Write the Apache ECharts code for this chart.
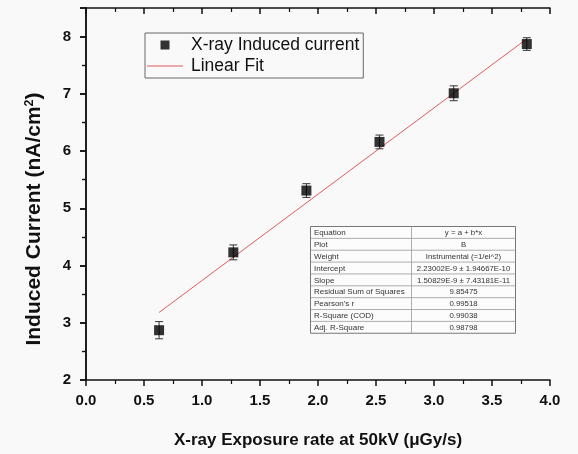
<!DOCTYPE html>
<html>
<head>
<meta charset="utf-8">
<script src="https://cdn.jsdelivr.net/npm/echarts@6/dist/echarts.min.js"></script>
<style>
  html, body { margin: 0; padding: 0; background: #f9f9f9; }
  #chart { width: 578px; height: 454px; }
</style>
</head>
<body>
<div id="chart"></div>
<script>
// Measured induced current vs. X-ray exposure rate
const exposureRate = [0.63, 1.27, 1.90, 2.53, 3.17, 3.80];
const inducedCurrent = [2.87, 4.23, 5.31, 6.16, 7.01, 7.87];
const currentError = [0.15, 0.13, 0.12, 0.12, 0.13, 0.11];

// Linear fit y = a + b*x (in nA/cm^2 units)
const fitIntercept = 2.23002;
const fitSlope = 1.50829;

const xTicks = { min: 0, max: 4, interval: 0.5 };
const yTicks = { min: 2, max: 8.5, interval: 1 };

const legendNames = ['X-ray Induced current', 'Linear Fit'];

// Fit statistics table
const tableLabels = ['Equation', 'Plot', 'Weight', 'Intercept', 'Slope',
  'Residual Sum of Squares', "Pearson's r", 'R-Square (COD)', 'Adj. R-Square'];
const tableValues = ['y = a + b*x', 'B', 'Instrumental (=1/ei^2)',
  '2.23002E-9 \u00b1 1.94667E-10', '1.50829E-9 \u00b1 7.43181E-11',
  '9.85475', '0.99518', '0.99038', '0.98798'];

const FONT = '"Liberation Sans", Arial, sans-serif';
const FIT_COLOR = '#e25a5c';

const points = exposureRate.map((x, i) => [x, inducedCurrent[i]]);
const errData = exposureRate.map((x, i) => [x, inducedCurrent[i] - currentError[i], inducedCurrent[i] + currentError[i]]);
const xFirst = exposureRate[0], xLast = exposureRate[exposureRate.length - 1];
const fitLine = [[xFirst, fitIntercept + fitSlope * xFirst], [xLast, fitIntercept + fitSlope * xLast]];

const chart = echarts.init(document.getElementById('chart'), null, { renderer: 'canvas' });

function tableGraphic() {
  const left = 308, top = 224, w1 = 101, w2 = 104, rh = 11.86;
  const children = [];
  const n = tableLabels.length;
  children.push({ type: 'rect', shape: { x: 0, y: 0, width: w1 + w2, height: rh * n },
    style: { fill: '#fcfcfc', stroke: '#777', lineWidth: 1 } });
  for (let i = 1; i < n; i++) {
    children.push({ type: 'line', shape: { x1: 0, y1: rh * i, x2: w1 + w2, y2: rh * i },
      style: { stroke: '#999', lineWidth: 0.8 } });
  }
  children.push({ type: 'line', shape: { x1: w1, y1: 0, x2: w1, y2: rh * n },
    style: { stroke: '#999', lineWidth: 0.8 } });
  tableLabels.forEach((t, i) => {
    children.push({ type: 'text', x: 3.5, y: rh * i + rh / 2 + 0.5,
      style: { text: t, font: '8px ' + FONT, fill: '#333', verticalAlign: 'middle', align: 'left' } });
  });
  tableValues.forEach((t, i) => {
    children.push({ type: 'text', x: w1 + w2 / 2, y: rh * i + rh / 2 + 0.5,
      style: { text: t, font: '7.8px ' + FONT, fill: '#333', verticalAlign: 'middle', align: 'center' } });
  });
  return { type: 'group', left: left, top: top, children: children };
}

const tickLabelStyle = { fontFamily: FONT, fontWeight: 'bold', fontSize: 15, color: '#111' };
const axisLineStyle = { color: '#111', width: 1.5 };

chart.setOption({
  backgroundColor: '#f9f9f9',
  animation: false,
  grid: { left: 86, right: 28, top: 8, bottom: 72, containLabel: false },
  legend: {
    orient: 'vertical',
    left: 145, top: 33,
    width: 217,
    data: [
      { name: legendNames[0], icon: 'path://M0,0H10V10H0Z', itemStyle: { color: '#000' } },
      { name: legendNames[1], icon: 'path://M0,0H36V1H0Z', itemStyle: { color: FIT_COLOR } }
    ],
    symbolKeepAspect: true,
    itemWidth: 36, itemHeight: 9,
    itemGap: 3,
    padding: [3, 4, 3, 2],
    borderColor: '#666', borderWidth: 1,
    textStyle: { fontFamily: FONT, fontSize: 17.5, color: '#111', padding: [0, 0, 0, 3] }
  },
  xAxis: [
    {
      type: 'value', min: xTicks.min, max: xTicks.max, interval: xTicks.interval,
      position: 'bottom',
      name: 'X-ray Exposure rate at 50kV (\u03bcGy/s)',
      nameLocation: 'middle', nameGap: 52,
      nameTextStyle: { fontFamily: FONT, fontWeight: 'bold', fontSize: 17, color: '#111' },
      axisLine: { show: true, lineStyle: axisLineStyle },
      axisTick: { show: true, inside: false, length: 6, lineStyle: { color: '#111', width: 1.5 } },
      minorTick: { show: true, splitNumber: 2, length: 4, lineStyle: { color: '#111', width: 1.2 } },
      axisLabel: Object.assign({ margin: 13, formatter: v => v.toFixed(1) }, tickLabelStyle),
      splitLine: { show: false }
    },
    {
      type: 'value', min: xTicks.min, max: xTicks.max, interval: xTicks.interval,
      position: 'top',
      axisLine: { show: true, lineStyle: axisLineStyle },
      axisTick: { show: true, inside: true, length: 6, lineStyle: { color: '#111', width: 1.5 } },
      minorTick: { show: true, splitNumber: 2, length: 4, lineStyle: { color: '#111', width: 1.2 } },
      axisLabel: { show: false },
      splitLine: { show: false }
    }
  ],
  yAxis: [
    {
      type: 'value', min: yTicks.min, max: yTicks.max, interval: yTicks.interval,
      position: 'left',
      name: 'Induced Current (nA/cm{sup|2})',
      nameLocation: 'middle', nameGap: 41, nameRotate: 90,
      nameTextStyle: { fontFamily: FONT, fontWeight: 'bold', fontSize: 21, color: '#111',
        padding: [0, 50, 0, 0],
        rich: { sup: { fontFamily: FONT, fontWeight: 'bold', fontSize: 12.5, color: '#111', verticalAlign: 'top', padding: [0, 0, 9, 0] } } },
      axisLine: { show: true, lineStyle: axisLineStyle },
      axisTick: { show: true, inside: false, length: 6, lineStyle: { color: '#111', width: 1.5 } },
      minorTick: { show: true, splitNumber: 2, length: 4, lineStyle: { color: '#111', width: 1.2 } },
      axisLabel: Object.assign({ margin: 15, showMaxLabel: false,
        formatter: v => (Number.isInteger(v) ? String(v) : '') }, tickLabelStyle),
      splitLine: { show: false }
    },
    {
      type: 'value', min: yTicks.min, max: yTicks.max, interval: yTicks.interval,
      position: 'right',
      axisLine: { show: true, lineStyle: axisLineStyle },
      axisTick: { show: true, inside: true, length: 6, lineStyle: { color: '#111', width: 1.5 } },
      minorTick: { show: true, splitNumber: 2, length: 4, lineStyle: { color: '#111', width: 1.2 } },
      axisLabel: { show: false },
      splitLine: { show: false }
    }
  ],
  series: [
    {
      name: legendNames[1],
      type: 'line',
      data: fitLine,
      symbol: 'none',
      lineStyle: { color: FIT_COLOR, width: 1 },
      itemStyle: { color: FIT_COLOR },
      z: 2
    },
    {
      name: 'errors',
      type: 'custom',
      data: errData,
      z: 3,
      renderItem: function (params, api) {
        const x = api.value(0);
        const lo = api.coord([x, api.value(1)]);
        const hi = api.coord([x, api.value(2)]);
        const cap = 4;
        const st = { stroke: '#333', lineWidth: 1 };
        return {
          type: 'group',
          children: [
            { type: 'line', shape: { x1: lo[0], y1: lo[1], x2: hi[0], y2: hi[1] }, style: st },
            { type: 'line', shape: { x1: lo[0] - cap, y1: lo[1], x2: lo[0] + cap, y2: lo[1] }, style: st },
            { type: 'line', shape: { x1: hi[0] - cap, y1: hi[1], x2: hi[0] + cap, y2: hi[1] }, style: st }
          ]
        };
      }
    },
    {
      name: legendNames[0],
      type: 'scatter',
      data: points,
      symbol: 'rect',
      symbolSize: 10,
      itemStyle: { color: '#000' },
      z: 4
    }
  ],
  graphic: [tableGraphic()]
});
</script>
</body>
</html>
